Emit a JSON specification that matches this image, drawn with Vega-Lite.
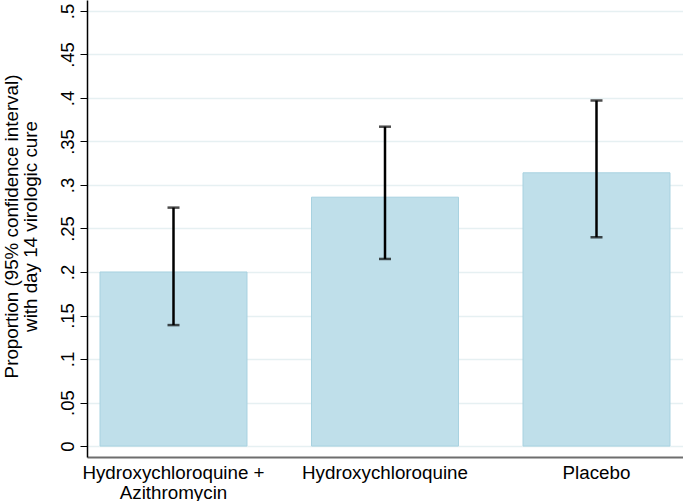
{
  "$schema": "https://vega.github.io/schema/vega-lite/v6.json",
  "width": 596,
  "height": 457,
  "autosize": {"type": "none"},
  "padding": {"left": 87, "top": 0, "right": 0, "bottom": 44},
  "background": "white",
  "config": {
    "view": {"stroke": null},
    "font": "Liberation Sans",
    "axis": {"labelFont": "Liberation Sans", "titleFont": "Liberation Sans", "labelColor": "black", "titleColor": "black", "titleFontWeight": "normal"}
  },
  "data": {
    "values": [
      {"group": "Hydroxychloroquine + Azithromycin", "p": 0.200, "lo": 0.139, "hi": 0.274},
      {"group": "Hydroxychloroquine", "p": 0.286, "lo": 0.215, "hi": 0.367},
      {"group": "Placebo", "p": 0.314, "lo": 0.240, "hi": 0.397}
    ]
  },
  "encoding": {
    "x": {
      "field": "group", "type": "nominal", "sort": null,
      "scale": {"paddingInner": 0.305, "paddingOuter": 0.0615},
      "axis": {
        "title": null, "labelAngle": 0, "ticks": false, "domainColor": "#6e6e6e", "domainWidth": 2,
        "labelFontSize": 18.8, "labelPadding": 6, "labelLineHeight": 20, "labelLimit": 400,
        "labelExpr": "datum.value == 'Hydroxychloroquine + Azithromycin' ? ['Hydroxychloroquine +', 'Azithromycin'] : datum.value"
      }
    }
  },
  "layer": [
    {
      "mark": {"type": "bar", "color": "#bfdfea", "stroke": "#a8d2e0", "strokeWidth": 1},
      "encoding": {
        "y": {
          "field": "p", "type": "quantitative",
          "scale": {"domain": [-0.0126, 0.5126], "nice": false, "zero": false},
          "axis": {
            "values": [0, 0.05, 0.1, 0.15, 0.2, 0.25, 0.3, 0.35, 0.4, 0.45, 0.5],
            "labelExpr": "datum.value == 0 ? '0' : replace(format(datum.value, '.2~f'), /^0/, '')",
            "labelAngle": -90, "labelAlign": "center", "labelBaseline": "bottom",
            "labelFontSize": 18.5, "labelPadding": 3,
            "tickSize": 7, "tickColor": "black", "tickWidth": 1,
            "domainColor": "black", "domainWidth": 1.5,
            "grid": true, "gridColor": "#e6f0f2", "gridWidth": 1.5,
            "title": ["Proportion (95% confidence interval)", "with day 14 virologic cure"],
            "titleFontSize": 18.8, "titlePadding": 18, "titleLineHeight": 19, "titleY": 226
          }
        }
      }
    },
    {
      "mark": {"type": "rule", "color": "black", "strokeWidth": 2.5},
      "encoding": {
        "y": {"field": "lo", "type": "quantitative"},
        "y2": {"field": "hi"}
      }
    },
    {
      "mark": {"type": "tick", "color": "black", "thickness": 2.5, "size": 12, "orient": "horizontal"},
      "encoding": {"y": {"field": "lo", "type": "quantitative"}}
    },
    {
      "mark": {"type": "tick", "color": "black", "thickness": 2.5, "size": 12, "orient": "horizontal"},
      "encoding": {"y": {"field": "hi", "type": "quantitative"}}
    }
  ]
}
